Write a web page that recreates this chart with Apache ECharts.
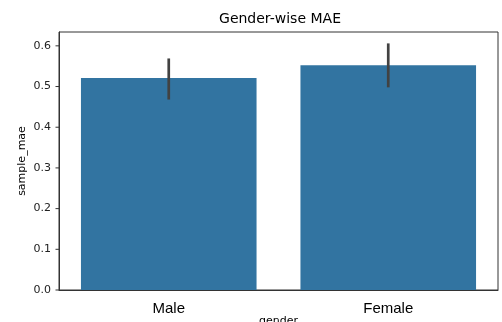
<!DOCTYPE html>
<html>
<head>
<meta charset="utf-8">
<script src="https://cdn.jsdelivr.net/npm/echarts@6/dist/echarts.min.js"></script>
<style>
  html, body { margin: 0; padding: 0; background: #fff; }
  #chart { width: 502px; height: 322px; }
</style>
</head>
<body>
<div id="chart"></div>
<script>
// Mean absolute error per gender, with 95% confidence interval bounds
const categories = ['Male', 'Female'];
const maeMean = [0.521, 0.552];
const ciLow = [0.468, 0.498];
const ciHigh = [0.569, 0.606];
const yTicks = [0, 0.1, 0.2, 0.3, 0.4, 0.5, 0.6];
const yMax = 0.634;

const chart = echarts.init(document.getElementById('chart'), null, { renderer: 'canvas' });

const errorData = categories.map((c, i) => [i, ciLow[i], ciHigh[i]]);
const tickData = yTicks.map(v => [0, v]);

chart.setOption({
  animation: false,
  backgroundColor: '#fff',
  title: {
    text: 'Gender-wise MAE',
    left: 275,
    textAlign: 'center',
    top: 7,
    textStyle: { fontFamily: 'DejaVu Sans', fontSize: 14, fontWeight: 'normal', color: '#000' }
  },
  grid: {
    left: 59, right: 4, top: 32, bottom: 32,
    outerBoundsMode: 'none',
    containLabel: false,
    show: true, borderColor: '#333', borderWidth: 1, backgroundColor: 'transparent'
  },
  xAxis: {
    type: 'category',
    data: categories,
    boundaryGap: true,
    name: 'gender',
    nameLocation: 'middle',
    nameGap: 26,
    nameMoveOverlap: false,
    nameTextStyle: { fontFamily: 'DejaVu Sans', fontSize: 11, color: '#000' },
    axisLine: { lineStyle: { color: '#333', width: 1 } },
    axisTick: { alignWithLabel: true, length: 3.5, lineStyle: { color: '#333' } },
    axisLabel: { fontFamily: 'Liberation Sans', fontSize: 15, color: '#000', margin: 11 },
    splitLine: { show: false }
  },
  yAxis: {
    type: 'value',
    min: 0,
    max: yMax,
    interval: 0.1,
    name: 'sample_mae',
    nameLocation: 'middle',
    nameRotate: 90,
    nameGap: 31,
    nameMoveOverlap: false,
    nameTextStyle: { fontFamily: 'DejaVu Sans', fontSize: 11, color: '#000' },
    axisLine: { show: true, lineStyle: { color: '#333', width: 1 } },
    axisTick: { show: false },
    axisLabel: {
      fontFamily: 'DejaVu Sans', fontSize: 11, color: '#222', margin: 8,
      showMaxLabel: false,
      formatter: v => v.toFixed(1)
    },
    splitLine: { show: false }
  },
  series: [
    {
      type: 'bar',
      data: maeMean,
      barWidth: '80%',
      itemStyle: { color: '#3274a1' },
      z: 2
    },
    {
      // confidence interval whiskers
      type: 'custom',
      data: errorData,
      z: 5,
      clip: false,
      renderItem: (params, api) => {
        const lo = api.coord([api.value(0), api.value(1)]);
        const hi = api.coord([api.value(0), api.value(2)]);
        return {
          type: 'line',
          shape: { x1: lo[0], y1: lo[1], x2: hi[0], y2: hi[1] },
          style: { stroke: '#424242', lineWidth: 2.7 }
        };
      }
    },
    {
      // outward y-axis tick marks at the labelled values
      type: 'custom',
      data: tickData,
      z: 5,
      clip: false,
      silent: true,
      renderItem: (params, api) => {
        const y = api.coord([0, api.value(1)])[1];
        const x0 = params.coordSys.x;
        return {
          type: 'line',
          shape: { x1: x0 - 3.5, y1: y, x2: x0, y2: y },
          style: { stroke: '#333', lineWidth: 1 }
        };
      }
    }
  ]
});
</script>
</body>
</html>
